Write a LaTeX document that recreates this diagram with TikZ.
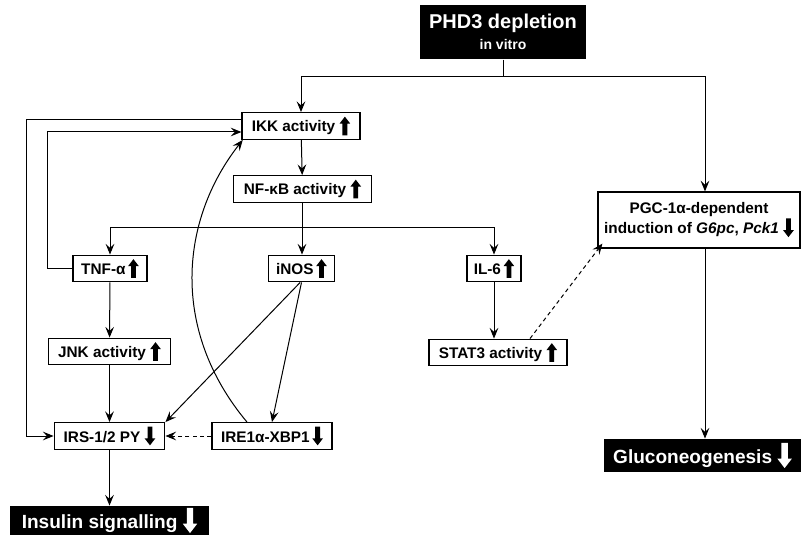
\documentclass[tikz,border=0pt]{standalone}
\usepackage{fontspec}
\setmainfont{Liberation Sans}
\usetikzlibrary{arrows.meta,calc}
\newcommand{\upa}[1][black]{\tikz[baseline=0pt]\fill[#1] (-1.8pt,-2.5pt) -- (1.8pt,-2.5pt) -- (1.8pt,6.3pt) -- (4pt,6.3pt) -- (0,11.5pt) -- (-4pt,6.3pt) -- (-1.8pt,6.3pt) -- cycle;}
\newcommand{\dna}[1][black]{\tikz[baseline=0pt]\fill[#1] (-1.8pt,11.5pt) -- (1.8pt,11.5pt) -- (1.8pt,2.7pt) -- (4pt,2.7pt) -- (0,-2.5pt) -- (-4pt,2.7pt) -- (-1.8pt,2.7pt) -- cycle;}
\newcommand{\bdna}{\tikz[baseline=0pt,scale=1.35]\fill[white] (-1.8pt,11.5pt) -- (1.8pt,11.5pt) -- (1.8pt,2.7pt) -- (4pt,2.7pt) -- (0,-2.5pt) -- (-4pt,2.7pt) -- (-1.8pt,2.7pt) -- cycle;}
\tikzset{
  bx/.style={draw, line width=0.9pt, fill=white, inner sep=0pt, minimum height=20pt,
    font=\fontsize{11.5}{13.8}\selectfont\bfseries, align=center},
  bk/.style={fill=black, text=white, inner sep=0pt,
    font=\fontsize{14.3}{17}\selectfont\bfseries, align=center},
  ar/.style={-{Stealth[length=8pt,width=6.5pt,inset=3pt]}, line width=0.75pt},
  ln/.style={line width=0.75pt},
  dsh/.style={dash pattern=on 3pt off 2.5pt}
}
\begin{document}
\begin{tikzpicture}[x=0.75pt,y=-0.75pt]
\useasboundingbox (0,0) rectangle (801,535);
% nodes
\node[bk, minimum width=124.5pt, minimum height=41pt] (phd) at (503,32)
  {{\fontsize{15}{18}\selectfont PHD3 depletion}\\[-1pt]{\fontsize{10.5}{12}\selectfont in vitro}};
\node[bx, minimum width=88.5pt] (ikk) at (301,126) {IKK activity \upa};
\node[bx, minimum width=104pt] (nfkb) at (302.5,189) {NF-κB activity \upa};
\node[bx, minimum width=55.5pt] (tnf) at (110,268.5) {TNF-α\,\upa};
\node[bx, minimum width=50pt] (inos) at (301.5,268.5) {iNOS\,\upa};
\node[bx, minimum width=40.5pt] (il6) at (494,268.5) {IL-6\,\upa};
\node[bx, minimum width=103.5pt] (stat) at (498,352.5) {STAT3 activity \upa};
\node[bx, minimum width=92pt] (jnk) at (109.5,351.5) {JNK activity \upa};
\node[bx, minimum width=83pt] (irs) at (109.5,436) {IRS-1/2 PY \dna};
\node[bx, minimum width=90pt] (ire) at (272,436) {IRE1α-XBP1\,\dna};
\node[bx, minimum width=151.5pt, minimum height=42pt] (pgc) at (699,220)
  {PGC-1α-dependent\\induction of \textit{G6pc}, \textit{Pck1} \dna};
\node[bk, minimum width=148pt, minimum height=25pt] (gl) at (702.5,455.5) {Gluconeogenesis \bdna};
\node[bk, minimum width=149pt, minimum height=22pt] (ins) at (109.5,520.5) {Insulin signalling \bdna};
% helper coordinates
\coordinate (split) at (503,77);
\coordinate (colR) at (705,77);
\coordinate (br) at (302,228);
% connectors
\draw[ln] (phd.south -| split) -- (split);
\draw[ar] (split) -| (ikk.north);
\draw[ar] (split) -- (colR) -- (pgc.north -| colR);
\draw[ar] (ikk) -- (nfkb);
\draw[ln] (nfkb.south -| br) -- (br);
\draw[ar] (br) -| (tnf.north);
\draw[ar] (br) -- (inos.north -| br);
\draw[ar] (br) -| (il6.north);
\draw[ar] (tnf.west) -- ++(-25,0) |- ([yshift=-4.5pt]ikk.west);
\draw[ar] ([yshift=4.9pt]ikk.west) -- ++(-215,0) |- (irs.west);
\draw[ar] (tnf) -- (jnk);
\draw[ar] (jnk) -- (irs);
\draw[ar] ([xshift=-1pt]inos.south) -- (irs.north east);
\draw[ar] (inos.south) -- (ire.north);
\draw[ar] ([xshift=-18.75pt]ire.north) .. controls (170,330) and (180,220) .. ([xshift=1pt]ikk.south west);
\draw[ar,dsh] (ire.west) -- (irs.east);
\draw[ar] (irs) -- (ins);
\draw[ar] (il6.south) -- (il6.south |- stat.north);
\draw[ar,dsh] ([xshift=24pt]stat.north) -- ([shift={(3.75pt,3.75pt)}]pgc.south west);
\draw[ar] (pgc.south -| colR) -- (gl.north -| colR);
\end{tikzpicture}
\end{document}
